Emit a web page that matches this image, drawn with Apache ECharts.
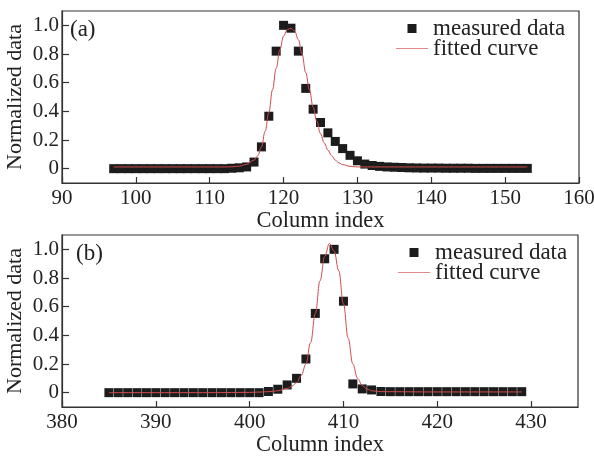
<!DOCTYPE html>
<html>
<head>
<meta charset="utf-8">
<script src="https://cdn.jsdelivr.net/npm/echarts@6/dist/echarts.min.js"></script>
<style>html,body{margin:0;padding:0;background:#fff;}#c{width:594px;height:456px;}</style>
</head>
<body>
<div id="c"></div>
<script>
// ---- data (a) ----
const colA = [97,98,99,100,101,102,103,104,105,106,107,108,109,110,111,112,113,114,115,116,117,118,119,120,121,122,123,124,125,126,127,128,129,130,131,132,133,134,135,136,137,138,139,140,141,142,143,144,145,146,147,148,149,150,151,152,153];
const measA = [0,0,0,0,0,0,0,0,0,0,0,0,0,0,0,0,0.003,0.006,0.012,0.046,0.152,0.366,0.82,1.0,0.98,0.82,0.56,0.415,0.322,0.25,0.19,0.14,0.093,0.055,0.032,0.022,0.016,0.012,0.01,0.008,0.006,0.005,0.004,0.004,0.004,0.003,0.003,0.003,0.003,0.002,0.002,0.002,0.002,0.002,0.002,0.002,0.002];
const fitAx = [97,105,110,112,113,114,115,116,116.5,117,117.5,118,118.5,119,119.5,120,120.5,121,121.5,122,122.5,123,123.5,124,124.5,125,125.5,126,126.5,127,127.5,128,129,130,135,153];
const fitAy = [0.012,0.012,0.012,0.012,0.013,0.018,0.03,0.06,0.09,0.15,0.26,0.39,0.55,0.70,0.83,0.925,0.97,0.98,0.96,0.9,0.8,0.67,0.55,0.43,0.33,0.245,0.18,0.13,0.09,0.06,0.04,0.028,0.016,0.012,0.012,0.012];
const xTicksA = [90,100,110,120,130,140,150,160];
// ---- data (b) ----
const colB = [385,386,387,388,389,390,391,392,393,394,395,396,397,398,399,400,401,402,403,404,405,406,407,408,409,410,411,412,413,414,415,416,417,418,419,420,421,422,423,424,425,426,427,428,429];
const measB = [0,0,0,0,0,0,0,0,0,0,0,0,0,0,0,0,0,0.008,0.024,0.054,0.10,0.235,0.553,0.934,1.0,0.638,0.061,0.026,0.019,0.008,0.007,0.007,0.007,0.007,0.007,0.007,0.007,0.007,0.007,0.007,0.007,0.007,0.007,0.007,0.007];
const fitBx = [385,395,400,401,402,403,404,404.5,405,405.5,406,406.5,407,407.5,408,408.5,409,409.5,410,410.5,411,411.5,412,412.5,413,414,420,429];
const fitBy = [0,0,0.002,0.004,0.007,0.013,0.03,0.045,0.07,0.12,0.2,0.35,0.55,0.78,0.95,1.04,0.99,0.85,0.62,0.38,0.2,0.1,0.05,0.025,0.013,0.007,0.005,0.005];
const xTicksB = [380,390,400,410,420,430];
const yTicks = [0,0.2,0.4,0.6,0.8,1.0];
const panelLabels = ['(a)','(b)'];
const seriesNames = ['measured data','fitted curve'];

const FONT = 'Liberation Serif';
const TXT = '#222';
const AX = '#333';
const RED = '#d24b4b';
const zip = (xs, ys) => xs.map((x, i) => [x, ys[i]]);

function xAxis(gi, min, max, ticks) {
  return {
    type: 'value', gridIndex: gi, min: min, max: max,
    name: 'Column index', nameLocation: 'middle', nameGap: 22,
    nameTextStyle: {fontFamily: FONT, fontSize: 22.5, color: TXT},
    axisLine: {show: true, onZero: false, lineStyle: {color: AX, width: 1.2}},
    axisTick: {show: true, inside: true, length: 6, customValues: ticks, lineStyle: {color: AX, width: 1.2}},
    axisLabel: {show: true, margin: 5, customValues: ticks, fontFamily: FONT, fontSize: 21, color: TXT},
    splitLine: {show: false}
  };
}
function yAxis(gi) {
  return {
    type: 'value', gridIndex: gi, min: -0.1, max: 1.1,
    name: 'Normalized data', nameLocation: 'middle', nameGap: 36, nameMoveOverlap: false,
    nameTextStyle: {fontFamily: FONT, fontSize: 22, color: TXT},
    axisLine: {show: true, onZero: false, lineStyle: {color: AX, width: 1.2}},
    axisTick: {show: true, inside: true, length: 7, customValues: yTicks, lineStyle: {color: AX, width: 1.2}},
    axisLabel: {show: true, margin: 3, customValues: yTicks, fontFamily: FONT, fontSize: 21, color: TXT,
      formatter: v => (Math.abs(v) < 1e-9 ? '0' : v.toFixed(1))},
    splitLine: {show: false}
  };
}
function legend(left, top, names) {
  return {
    orient: 'vertical', left: left, top: top, itemWidth: 32, itemHeight: 9, itemGap: -3,
    padding: 0, symbolKeepAspect: true,
    data: [
      {name: names[0], icon: 'path://M0,0h10v10h-10z', itemStyle: {color: '#1c1c1c', borderWidth: 0}},
      {name: names[1], icon: 'path://M0,0h64v1.3h-64z', itemStyle: {color: RED, borderWidth: 0}}
    ],
    textStyle: {fontFamily: FONT, fontSize: 23, color: TXT}, selectedMode: false
  };
}
const chart = echarts.init(document.getElementById('c'), null, {renderer: 'canvas'});
chart.setOption({
  animation: false,
  backgroundColor: '#fff',
  title: [
    {text: panelLabels[0], left: 70, top: 18, padding: 0, textStyle: {fontFamily: FONT, fontSize: 23, fontWeight: 'normal', color: TXT}},
    {text: panelLabels[1], left: 76, top: 242, padding: 0, textStyle: {fontFamily: FONT, fontSize: 23, fontWeight: 'normal', color: TXT}}
  ],
  grid: [
    {left: 62, top: 11, width: 517, height: 172, show: true, borderColor: AX, borderWidth: 1.2, containLabel: false, outerBoundsMode: 'none'},
    {left: 62, top: 235, width: 516, height: 172, show: true, borderColor: AX, borderWidth: 1.2, containLabel: false, outerBoundsMode: 'none'}
  ],
  xAxis: [xAxis(0, 90, 160, xTicksA), xAxis(1, 380, 435, xTicksB)],
  yAxis: [yAxis(0), yAxis(1)],
  legend: [legend(396, 17, seriesNames), legend(398, 241, seriesNames)],
  series: [
    {name: seriesNames[1], type: 'line', xAxisIndex: 0, yAxisIndex: 0, data: zip(fitAx, fitAy), showSymbol: false, symbol: 'none',
      smooth: 0.4, smoothMonotone: 'x', lineStyle: {color: RED, width: 1}, itemStyle: {color: RED}, z: 3},
    {name: seriesNames[0], type: 'scatter', xAxisIndex: 0, yAxisIndex: 0, data: zip(colA, measA), symbol: 'rect', symbolSize: 9,
      itemStyle: {color: '#1c1c1c', opacity: 1}, z: 2},
    {name: seriesNames[1], type: 'line', xAxisIndex: 1, yAxisIndex: 1, data: zip(fitBx, fitBy), showSymbol: false, symbol: 'none',
      smooth: 0.4, smoothMonotone: 'x', lineStyle: {color: RED, width: 1}, itemStyle: {color: RED}, z: 3},
    {name: seriesNames[0], type: 'scatter', xAxisIndex: 1, yAxisIndex: 1, data: zip(colB, measB), symbol: 'rect', symbolSize: 9,
      itemStyle: {color: '#1c1c1c', opacity: 1}, z: 2}
  ]
});
</script>
</body>
</html>
